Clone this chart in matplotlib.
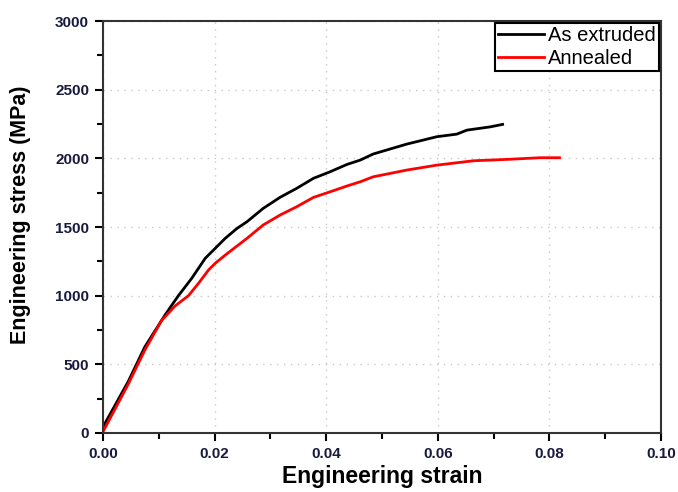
import numpy as np
import matplotlib.pyplot as plt
from matplotlib.ticker import MultipleLocator

# odksztalcenie / naprezenie (MPa)
strain_extruded = [0.0, 0.0045, 0.0075, 0.0111, 0.0135, 0.0159, 0.0183, 0.0201, 0.0219,
                   0.0240, 0.0258, 0.0287, 0.0317, 0.0347, 0.0377, 0.0407, 0.0437,
                   0.0461, 0.0484, 0.0544, 0.0598, 0.0634, 0.0652, 0.0694, 0.0716]
stress_extruded = [45, 374, 628, 859, 1000, 1127, 1272, 1345, 1418,
                   1490, 1539, 1636, 1716, 1782, 1855, 1903, 1956,
                   1988, 2032, 2104, 2158, 2177, 2206, 2230, 2248]

strain_annealed = [0.0, 0.0045, 0.0075, 0.0105, 0.0129, 0.0153, 0.0171, 0.0189, 0.0201,
                   0.0219, 0.0258, 0.0287, 0.0317, 0.0347, 0.0377, 0.0407, 0.0437,
                   0.0461, 0.0484, 0.0544, 0.0598, 0.0664, 0.0724, 0.0783, 0.0818]
stress_annealed = [10, 355, 605, 820, 925, 1000, 1090, 1187, 1236,
                   1296, 1418, 1515, 1587, 1648, 1716, 1757, 1799,
                   1830, 1866, 1915, 1951, 1983, 1993, 2005, 2005]

plt.rcParams['font.family'] = ['Liberation Sans', 'DejaVu Sans']

fig = plt.figure(figsize=(6.78, 4.92), dpi=100)
ax = fig.add_axes([0.152, 0.12, 0.823, 0.837])

ax.plot(strain_extruded, stress_extruded, color='black', lw=2, label='As extruded')
ax.plot(strain_annealed, stress_annealed, color='red', lw=2, label='Annealed')

ax.set_xlim(0, 0.10)
ax.set_ylim(0, 3000)
ax.xaxis.set_minor_locator(MultipleLocator(0.01))
ax.yaxis.set_major_locator(MultipleLocator(500))
ax.yaxis.set_minor_locator(MultipleLocator(250))
ax.set_xticks(np.arange(0, 0.101, 0.02))
ax.set_xticklabels(['0.00', '0.02', '0.04', '0.06', '0.08', '0.10'])

ax.grid(True, which='major', color='#c8c8c8', linestyle=(0, (1, 4)), lw=1)
ax.tick_params(which='major', direction='out', length=6, width=1.5, labelsize=11,
               labelcolor='#1a1a40', pad=4)
ax.tick_params(which='minor', direction='out', length=4, width=1.5)
for lab in ax.get_xticklabels() + ax.get_yticklabels():
    lab.set_fontweight('bold')
for s in ax.spines.values():
    s.set_linewidth(1.5)
    s.set_color('#333333')

ax.set_xlabel('Engineering strain', fontsize=16.5, fontweight='bold', labelpad=3)
ax.set_ylabel('Engineering stress (MPa)', fontsize=15.5, fontweight='bold')
ax.yaxis.set_label_coords(-0.13, 0.53)

leg = ax.legend(loc='upper right', fontsize=14.5, fancybox=False, edgecolor='black',
                framealpha=1, handlelength=2.3, borderpad=0.15, labelspacing=0.2,
                handletextpad=0.2, borderaxespad=0.1)
leg.get_frame().set_linewidth(1.5)

plt.savefig('out.png', dpi=100)
